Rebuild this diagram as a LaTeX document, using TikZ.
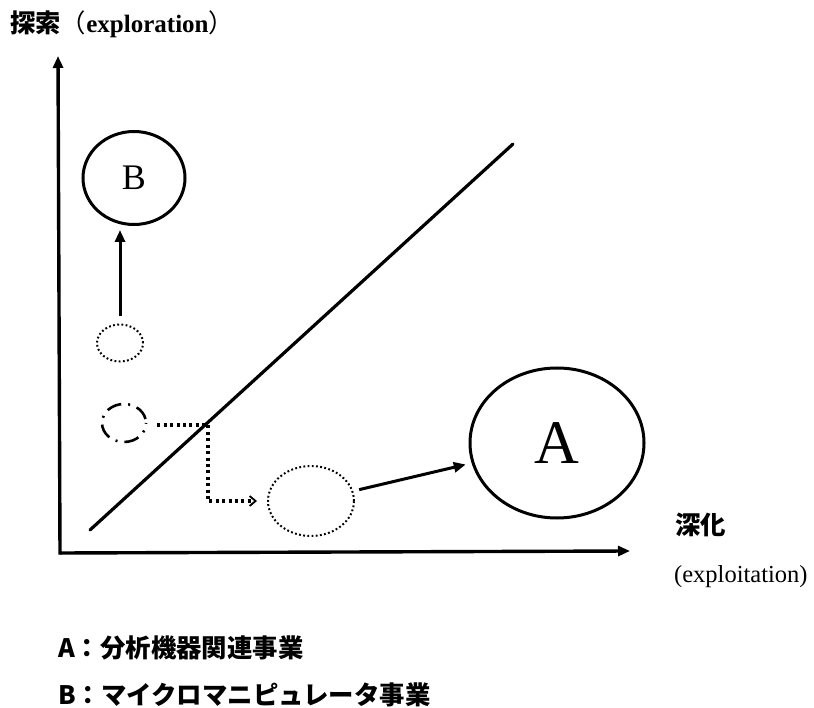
\documentclass[tikz,border=0pt]{standalone}
\usepackage{fontspec}
\setmainfont{Liberation Serif}
\newfontfamily\jp{Noto Sans CJK JP}
\usetikzlibrary{arrows.meta,shapes.geometric}
\tikzset{
  axis/.style={line width=3.4pt,-{Triangle[length=12pt,width=10pt]}},
  solidell/.style={ellipse,draw,line width=3pt,inner sep=0pt},
  dotell/.style={ellipse,draw,line width=2pt,dash pattern=on 1.8pt off 2.4pt,inner sep=0pt},
  dashdotell/.style={ellipse,draw,line width=2.6pt,dash pattern=on 15pt off 7pt on 2pt off 7pt,dash phase=-4pt,inner sep=0pt},
  arr/.style={line width=3pt,-{Triangle[length=12pt,width=10pt]}},
  dotline/.style={line width=3.2pt,dash pattern=on 3pt off 3.4pt,-{Straight Barb[length=6pt,width=10pt,line width=1.8pt]}},
  lbl/.style={anchor=west,inner sep=0pt,font=\fontsize{25.4}{30}\selectfont},
}
\begin{document}
\begin{tikzpicture}[x=1pt,y=-1pt]
\useasboundingbox (0,0) rectangle (814,708);
% axes
\coordinate (o) at (60,553);
\coordinate (ytop) at (58,56);
\coordinate (xend) at (630,551);
\draw[axis,line cap=rect] (o) -- (ytop);
\draw[axis] (o) -- (xend);
% diagonal
\coordinate (d1) at (90,530);
\coordinate (d2) at (513,144);
\draw[line width=3.2pt,line cap=round] (d1) -- (d2);
% ellipses
\node[solidell,minimum width=102pt,minimum height=93pt,font=\fontsize{36}{40}\selectfont] (B) at (134,178) {B};
\node[dotell,minimum width=46pt,minimum height=37pt] (b0) at (120,343) {};
\node[dashdotell,minimum width=44pt,minimum height=38pt] (c0) at (124,423) {};
\node[dotell,minimum width=86pt,minimum height=70pt] (a0) at (311,501) {};
\node[solidell,minimum width=174pt,minimum height=150pt,font=\fontsize{62}{66}\selectfont] (A) at (557,443) {A};
% connectors
\draw[arr] ([yshift=7pt]b0.north) -- ([yshift=-4pt]B.south -| b0.north);
\draw[arr,shorten <=6pt,shorten >=6pt] (a0) -- (A);
\coordinate (k) at (208,425);
\draw[dotline] ([xshift=10pt]c0.east |- k) -- (k) |- ([xshift=-10pt]a0.west);
% texts
\node[lbl] (t1) at (10,24) {{\jp\bfseries 探索}{\jp （}{\bfseries\fontsize{25}{30}\selectfont exploration}{\jp ）}};
\node[lbl] (t2) at (675,525) {\jp\bfseries 深化};
\node[lbl,font=\fontsize{24.5}{30}\selectfont] (t3) at (674,577) {(exploitation)};
\node[lbl] (l1) at (58,648) {\jp\bfseries A：分析機器関連事業};
\node[lbl] (l2) at (58,695) {\jp\bfseries B：マイクロマニピュレータ事業};
\end{tikzpicture}
\end{document}
